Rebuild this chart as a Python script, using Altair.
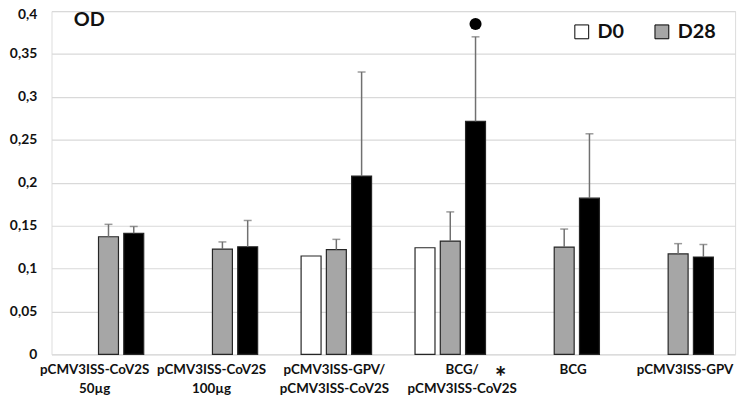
import altair as alt
import pandas as pd

groups = ["pCMV3ISS-CoV2S|50µg", "pCMV3ISS-CoV2S|100µg", "pCMV3ISS-GPV/|pCMV3ISS-CoV2S",
          "BCG/|pCMV3ISS-CoV2S", "BCG", "pCMV3ISS-GPV"]
label_shift = [-14, -11, -2, 12, 9, 7]
series = ["D0", "D28", "D56"]
series_colors = ["#FFFFFF", "#A6A6A6", "#000000"]
d0_vals = [None, None, 0.1146, 0.1242, None, None]
d28_vals = [0.137, 0.1227, 0.122, 0.132, 0.125, 0.117]
d28_err_top = [0.1515, 0.131, 0.134, 0.166, 0.146, 0.129]
d56_vals = [0.141, 0.1254, 0.2077, 0.2715, 0.182, 0.1134]
d56_err_top = [0.149, 0.156, 0.329, 0.370, 0.257, 0.128]
y_ticks = [0, 0.05, 0.1, 0.15, 0.2, 0.25, 0.3, 0.35, 0.4]

dot_group = ["BCG/|pCMV3ISS-CoV2S"]
dot_series = ["D56"]
dot_value = [0.385]
star_group = ["BCG/|pCMV3ISS-CoV2S"]
star_text = ["*"]

rows = []
for i, g in enumerate(groups):
    for s, v in zip(series, [d0_vals[i], d28_vals[i], d56_vals[i]]):
        if v is not None:
            rows.append({"group": g, "series": s, "value": v})
bars_df = pd.DataFrame(rows)

err_rows = []
for i, g in enumerate(groups):
    err_rows.append({"group": g, "series": "D28", "value": d28_vals[i], "top": d28_err_top[i]})
    err_rows.append({"group": g, "series": "D56", "value": d56_vals[i], "top": d56_err_top[i]})
err_df = pd.DataFrame(err_rows)

dot_df = pd.DataFrame({"group": dot_group, "series": dot_series, "value": dot_value})
star_df = pd.DataFrame({"group": star_group, "text": star_text, "value": [0]})

FONT = "Lato"

offset_cond = {
    "condition": [{"test": f"datum.value == '{g}'", "value": s} for g, s in zip(groups, label_shift)],
    "value": 0,
}
y_offset_cond = {"condition": {"test": "datum.value >= 0.4", "value": 4}, "value": 0}

x_enc = alt.X("group:N", sort=groups, title=None,
              scale=alt.Scale(paddingInner=0, paddingOuter=0),
              axis=alt.Axis(labelExpr="split(datum.label, '|')", labelAngle=0,
                            labelFontSize=13.5, labelFontWeight="bold", labelColor="#111",
                            labelFont=FONT, labelLineHeight=19.5, labelPadding=8.5,
                            labelOffset=offset_cond,
                            ticks=False, domain=False, grid=False))
xoff = alt.XOffset("series:N", sort=series,
                   scale=alt.Scale(domain=series, paddingInner=0.21, paddingOuter=0.86))
y_enc = alt.Y("value:Q", title="OD",
              scale=alt.Scale(domain=[0, 0.4], nice=False),
              axis=alt.Axis(values=y_ticks, labelExpr="replace(format(datum.value, '.2~f'), '.', ',')",
                            labelFontSize=14, labelFontWeight="bold", labelColor="#111",
                            labelFont=FONT, labelPadding=15, labelOffset=y_offset_cond,
                            ticks=False, domain=False,
                            grid=True, gridColor="#D9D9D9", gridWidth=1.2,
                            titleAngle=0, titleAlign="left", titleBaseline="top",
                            titleX=22, titleY=-1, titleFontSize=20, titleFontWeight="bold",
                            titleFont=FONT, titleColor="#111"))

bars = alt.Chart(bars_df).mark_bar(stroke="#262626", strokeWidth=1.2).encode(
    x=x_enc, xOffset=xoff, y=y_enc,
    fill=alt.Fill("series:N", scale=alt.Scale(domain=series, range=series_colors),
                  legend=alt.Legend(values=["D0", "D28"], title=None, orient="none",
                                    legendX=526, legendY=11, direction="horizontal",
                                    symbolType="square", symbolSize=196,
                                    symbolStrokeColor="#000", symbolStrokeWidth=1,
                                    labelFontSize=20, labelFontWeight="bold", labelFont=FONT,
                                    labelColor="#111", labelOffset=6, columnPadding=28,
                                    padding=0))
)

rules = alt.Chart(err_df).mark_rule(color="#707070", strokeWidth=1.5).encode(
    x=alt.X("group:N", sort=groups), xOffset=xoff, y="value:Q", y2="top:Q")
caps = alt.Chart(err_df).mark_tick(color="#707070", thickness=1.5, size=8, orient="horizontal").encode(
    x=alt.X("group:N", sort=groups), xOffset=xoff, y="top:Q")

dot = alt.Chart(dot_df).mark_point(filled=True, color="#000", size=150, opacity=1, shape="circle").encode(
    x=alt.X("group:N", sort=groups), xOffset=xoff, y="value:Q")

star = alt.Chart(star_df).mark_text(fontSize=28, fontWeight="bold", font=FONT, color="#111",
                                    baseline="middle", dx=51, dy=25).encode(
    x=alt.X("group:N", sort=groups), y="value:Q", text="text:N")

chart = alt.layer(bars, rules, caps, dot, star).properties(
    width=691, height=347,
    autosize=alt.AutoSizeParams(type="none"),
    padding={"left": 44, "top": 1, "right": 8, "bottom": 40},
).configure_view(stroke=None).configure(background="white")

chart.save("out.html", embed_options={"renderer": "svg", "actions": False})
